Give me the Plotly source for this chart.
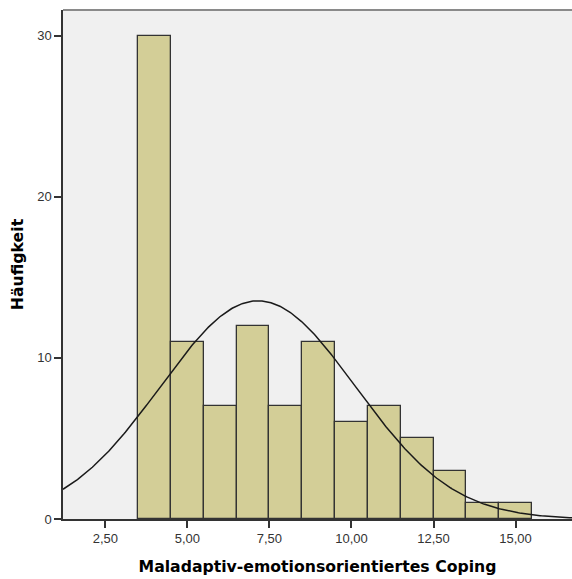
import numpy as np
import plotly.graph_objects as go

bin_centers = [4, 5, 6, 7, 8, 9, 10, 11, 12, 13, 14, 15]
counts = [30, 11, 7, 12, 7, 11, 6, 7, 5, 3, 1, 1]
mean_val = 7.15
sd_val = 2.975
n_total = sum(counts)
x_ticks = [2.5, 5.0, 7.5, 10.0, 12.5, 15.0]
x_tick_labels = ["2,50", "5,00", "7,50", "10,00", "12,50", "15,00"]
y_ticks = [0, 10, 20, 30]

x_range = [1.21, 16.72]
xs = np.linspace(x_range[0], x_range[1], 400)
ys = n_total * 1.0 / (sd_val * np.sqrt(2 * np.pi)) * np.exp(-0.5 * ((xs - mean_val) / sd_val) ** 2)

fig = go.Figure()
fig.add_trace(go.Bar(
    x=bin_centers, y=counts, width=1,
    marker=dict(color="#D3CE97", line=dict(color="#333333", width=1.3)),
    hoverinfo="skip",
))
fig.add_trace(go.Scatter(
    x=xs, y=ys, mode="lines",
    line=dict(color="#1a1a1a", width=1.5),
    hoverinfo="skip",
))

title_font = dict(family="DejaVu Sans, Verdana, sans-serif", size=15.7, color="black")

fig.update_layout(
    width=572, height=579,
    margin=dict(l=63, r=0, t=10, b=60),
    paper_bgcolor="white",
    plot_bgcolor="#F0F0F0",
    showlegend=False,
    bargap=0,
    font=dict(family="Liberation Sans, Arial, sans-serif"),
)
fig.update_xaxes(
    range=x_range, tickvals=x_ticks, ticktext=x_tick_labels,
    showgrid=False, zeroline=False,
    showline=True, linecolor="#333333", linewidth=1.5,
    ticks="outside", ticklen=7, tickcolor="#333333", tickwidth=1.5,
    tickfont=dict(size=13, color="#333333"),
    title=dict(text="<b>Maladaptiv-emotionsorientiertes Coping</b>", font=title_font, standoff=16),
)
fig.update_yaxes(
    range=[0, 31.6], tickvals=y_ticks,
    showgrid=False, zeroline=False,
    showline=True, linecolor="#333333", linewidth=1.5,
    ticks="outside", ticklen=7, tickcolor="#333333", tickwidth=1.5,
    tickfont=dict(size=13, color="#333333"),
    title=dict(text="<b>Häufigkeit</b>", font=title_font, standoff=10),
)
fig.add_shape(type="line", xref="paper", yref="paper", x0=0, x1=1, y0=1, y1=1,
              line=dict(color="#8a8a8a", width=2))

fig.write_html("out.html")
